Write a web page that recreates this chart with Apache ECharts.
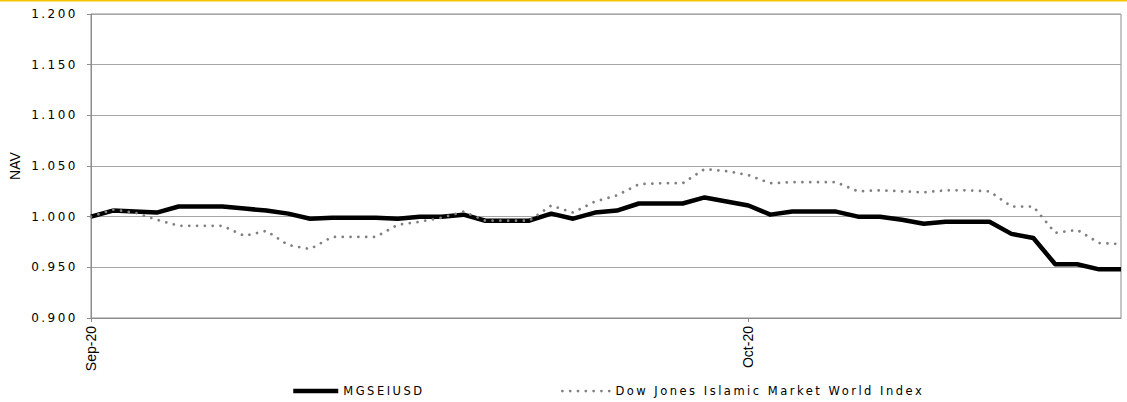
<!DOCTYPE html>
<html>
<head>
<meta charset="utf-8">
<script src="https://cdn.jsdelivr.net/npm/echarts@6/dist/echarts.min.js"></script>
<style>
  html, body { margin: 0; padding: 0; background: #fff; }
  #chart { width: 1127px; height: 402px; }
  /* the reference renders these labels with wide character spacing */
  #chart svg text[style*="DejaVu"] { letter-spacing: 2.5px; }
</style>
</head>
<body>
<div id="chart"></div>
<script>
// daily dates, 1 Sep 2020 .. 18 Oct 2020
const dates = [
  "2020-09-01", "2020-09-02", "2020-09-03", "2020-09-04", "2020-09-05", "2020-09-06",
  "2020-09-07", "2020-09-08", "2020-09-09", "2020-09-10", "2020-09-11", "2020-09-12",
  "2020-09-13", "2020-09-14", "2020-09-15", "2020-09-16", "2020-09-17", "2020-09-18",
  "2020-09-19", "2020-09-20", "2020-09-21", "2020-09-22", "2020-09-23", "2020-09-24",
  "2020-09-25", "2020-09-26", "2020-09-27", "2020-09-28", "2020-09-29", "2020-09-30",
  "2020-10-01", "2020-10-02", "2020-10-03", "2020-10-04", "2020-10-05", "2020-10-06",
  "2020-10-07", "2020-10-08", "2020-10-09", "2020-10-10", "2020-10-11", "2020-10-12",
  "2020-10-13", "2020-10-14", "2020-10-15", "2020-10-16", "2020-10-17", "2020-10-18",
];

const mgseiusd = [
  1.000, 1.006, 1.005, 1.004, 1.010, 1.010, 1.010, 1.008, 1.006, 1.003, 0.998, 0.999,
  0.999, 0.999, 0.998, 1.000, 1.000, 1.002, 0.996, 0.996, 0.996, 1.003, 0.998, 1.004,
  1.006, 1.013, 1.013, 1.013, 1.019, 1.015, 1.011, 1.002, 1.005, 1.005, 1.005, 1.000,
  1.000, 0.997, 0.993, 0.995, 0.995, 0.995, 0.983, 0.979, 0.953, 0.953, 0.948, 0.948,
];

const dowJones = [
  1.000, 1.007, 1.004, 0.997, 0.991, 0.991, 0.991, 0.981, 0.986, 0.972, 0.968, 0.980,
  0.980, 0.980, 0.992, 0.995, 0.999, 1.005, 0.996, 0.996, 0.996, 1.011, 1.004, 1.015,
  1.021, 1.032, 1.033, 1.033, 1.047, 1.045, 1.041, 1.033, 1.034, 1.034, 1.034, 1.025,
  1.026, 1.025, 1.024, 1.026, 1.026, 1.025, 1.010, 1.010, 0.984, 0.987, 0.974, 0.973,
];

// x labels shown only at month starts
const tickDates = ["2020-09-01", "2020-10-01"];
const tickLabels = ["Sep-20", "Oct-20"];

const seriesNames = ["MGSEIUSD", "Dow Jones Islamic Market World Index"];

const yMin = 0.9;
const yMax = 1.2;
const yStep = 0.05;

const wideFont = "DejaVu Sans";
const narrowFont = "'Liberation Sans Narrow', 'Arial Narrow', sans-serif";

const chart = echarts.init(document.getElementById("chart"), null, { renderer: "svg" });

const isTick = (idx) => tickDates.indexOf(dates[idx]) >= 0;

chart.setOption({
  animation: false,
  backgroundColor: "#fff",
  graphic: [
    {
      // yellow rule along the top of the page
      type: "rect",
      left: 0,
      top: 0,
      shape: { width: 1127, height: 1.5 },
      style: { fill: "#f5c400" },
    },
  ],
  grid: {
    left: 90,
    right: 6,
    top: 14,
    bottom: 84,
    show: true,
    borderColor: "#8c8c8c",
    borderWidth: 1,
  },
  legend: [
    {
      data: [seriesNames[0]],
      left: 286,
      top: 380,
      itemWidth: 45,
      itemHeight: 14,
      itemStyle: { opacity: 0 },
      lineStyle: { width: 4.5 },
      textStyle: { fontFamily: wideFont, fontSize: 11.5, color: "#000" },
    },
    {
      data: [seriesNames[1]],
      left: 556,
      top: 380,
      itemWidth: 48,
      itemHeight: 14,
      itemStyle: { opacity: 0 },
      lineStyle: { width: 2.75 },
      textStyle: { fontFamily: wideFont, fontSize: 11.5, color: "#000" },
    },
  ],
  xAxis: {
    type: "category",
    data: dates,
    boundaryGap: false,
    axisLine: { lineStyle: { color: "#8c8c8c", width: 1 } },
    axisTick: {
      show: true,
      length: 4,
      interval: (idx) => isTick(idx),
      lineStyle: { color: "#8c8c8c" },
    },
    axisLabel: {
      interval: (idx) => isTick(idx),
      rotate: 90,
      margin: 8,
      fontFamily: narrowFont,
      fontSize: 14,
      color: "#000",
      formatter: (value) => tickLabels[tickDates.indexOf(value)] || "",
    },
    splitLine: { show: false },
  },
  yAxis: {
    type: "value",
    min: yMin,
    max: yMax,
    interval: yStep,
    name: "NAV",
    nameLocation: "middle",
    nameRotate: 90,
    nameGap: 69,
    nameTextStyle: { fontFamily: narrowFont, fontSize: 14, color: "#000" },
    axisLine: { show: true, lineStyle: { color: "#8c8c8c", width: 1 } },
    axisTick: { show: true, length: 4, lineStyle: { color: "#8c8c8c" } },
    axisLabel: {
      margin: 13,
      fontFamily: wideFont,
      fontSize: 12,
      color: "#000",
      formatter: (v) => v.toFixed(3),
    },
    splitLine: { lineStyle: { color: "#a6a6a6", width: 1 } },
  },
  series: [
    {
      name: seriesNames[0],
      type: "line",
      data: mgseiusd,
      symbol: "none",
      lineStyle: { color: "#000", width: 4.5, join: "round" },
      itemStyle: { color: "#000" },
    },
    {
      name: seriesNames[1],
      type: "line",
      data: dowJones,
      symbol: "none",
      lineStyle: { color: "#808080", width: 2.75, type: [0.01, 7.8], cap: "round" },
      itemStyle: { color: "#808080" },
    },
  ],
});
</script>
</body>
</html>
